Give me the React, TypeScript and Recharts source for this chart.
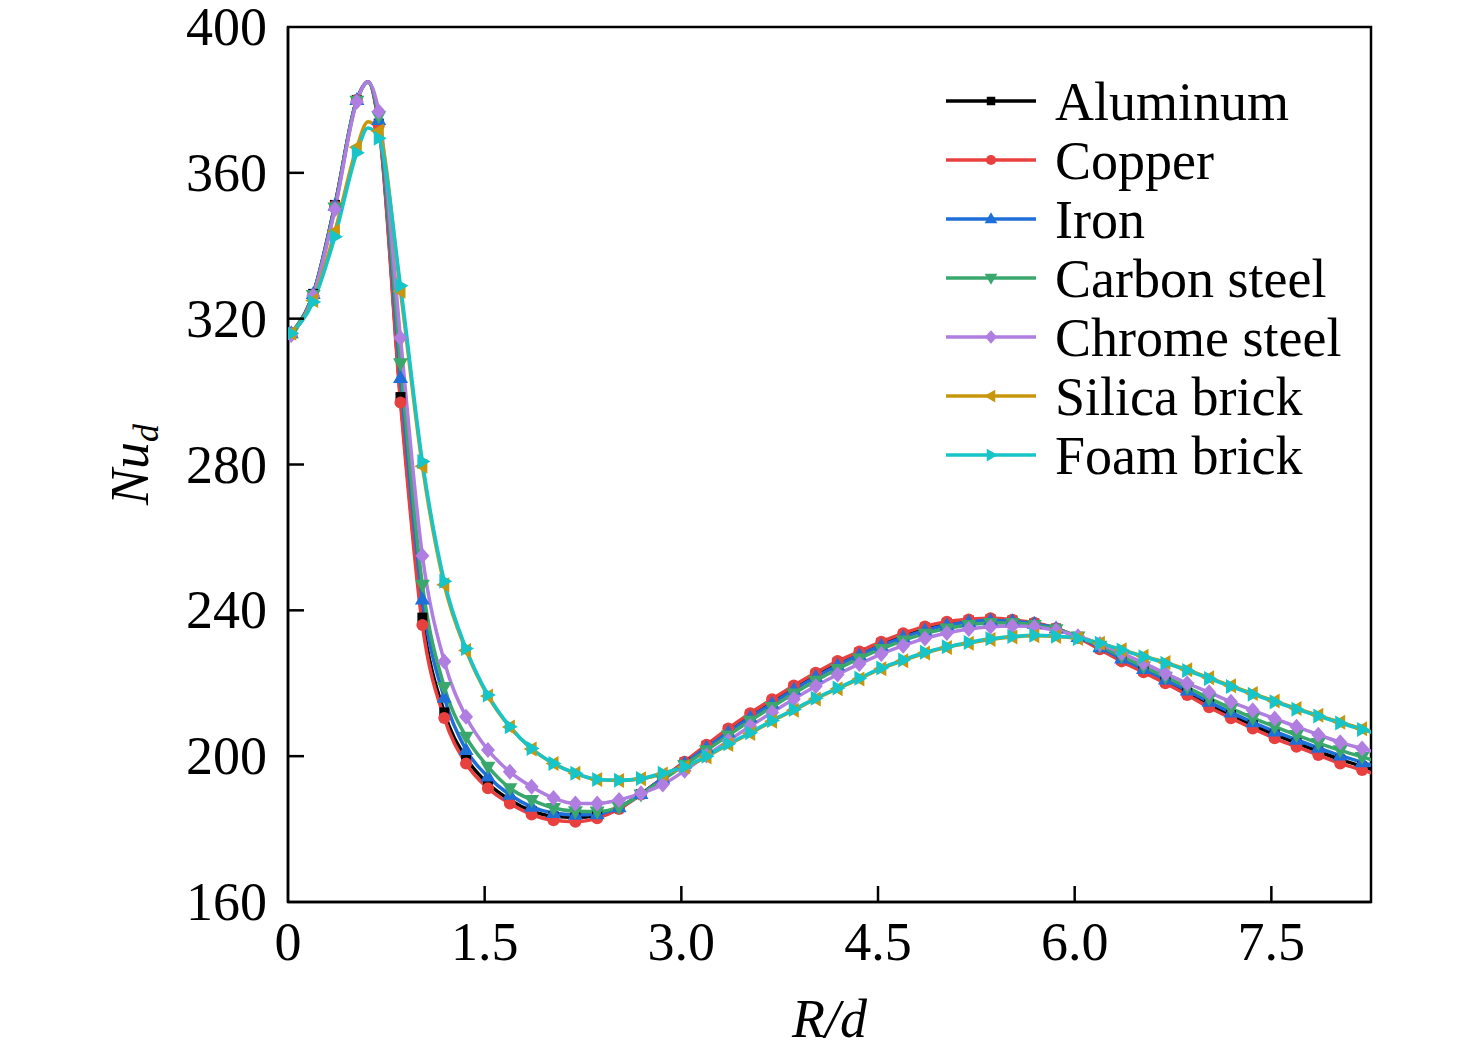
import React from 'react';
import { LineChart, Line, XAxis, YAxis, Legend, Label, ReferenceArea } from 'recharts';

const FONT = '"Liberation Serif", "Times New Roman", serif';

// R/d positions (0.61 is an extra unmarked point at the peak)
const R_D = [
  0.025, 0.192, 0.358, 0.525, 0.61, 0.692, 0.858, 1.025, 1.192, 1.358, 1.525, 1.692, 1.858,
  2.025, 2.192, 2.358, 2.525, 2.692, 2.858, 3.025, 3.192, 3.358, 3.525, 3.692, 3.858, 4.025,
  4.192, 4.358, 4.525, 4.692, 4.858, 5.025, 5.192, 5.358, 5.525, 5.692, 5.858, 6.025, 6.192,
  6.358, 6.525, 6.692, 6.858, 7.025, 7.192, 7.358, 7.525, 7.692, 7.858, 8.025, 8.192, 8.358,
];
const UNMARKED_X = [0.61];
const X_MAX = 8.26;
const X_TICKS = [0, 1.5, 3, 4.5, 6, 7.5];
const Y_TICKS = [160, 200, 240, 280, 320, 360, 400];

const ALUMINUM = [
  316, 326.8, 351.2, 380, 385, 373.5, 298.5, 238, 212, 199.5, 192.5, 188, 185, 183.5, 183.2,
  183.8, 186, 189.6, 194, 198.3, 202.8, 207.2, 211.4, 215.2, 219, 222.5, 225.7, 228.4, 231,
  233.3, 235.2, 236.5, 237.2, 237.5, 237.2, 236.4, 235, 232.6, 229.6, 226.4, 223.4, 220.5,
  217.4, 214.2, 211.3, 208.5, 205.9, 203.6, 201.3, 199.1, 197.2, 195.4,
];
const COPPER = [
  316, 326.5, 351, 380, 385, 373, 297, 236, 210.5, 198, 191.2, 187, 184, 182.4, 182, 183,
  185.5, 189.5, 194, 198.5, 203.1, 207.6, 211.8, 215.6, 219.4, 222.9, 226.1, 228.7, 231.4,
  233.7, 235.6, 236.9, 237.5, 237.8, 237.4, 236.6, 235.1, 232.5, 229.3, 226, 223, 220, 216.8,
  213.4, 210.4, 207.6, 204.9, 202.6, 200.3, 198, 196.2, 194.4,
];
const IRON = [
  316, 326.8, 351, 380, 385, 374.5, 303.7, 243, 216, 201.7, 194.4, 189.4, 186.1, 184.4, 183.9,
  184.1, 186, 189.6, 193.8, 198, 202.3, 206.5, 210.6, 214.4, 218.2, 221.7, 224.9, 227.7, 230.3,
  232.6, 234.5, 235.9, 236.8, 237.2, 237, 236.3, 235, 232.7, 229.9, 226.8, 223.9, 221, 218,
  214.9, 212, 209.3, 206.8, 204.5, 202.3, 200.2, 198.3, 196.5,
];
const CARBON_STEEL = [
  316, 326.5, 350.5, 379.8, 384.8, 375.5, 307.8, 247, 219, 205.3, 197.1, 191.2, 188, 185.8,
  184.9, 184.8, 186, 189.5, 193.5, 197.6, 201.6, 205.7, 209.7, 213.5, 217.2, 220.7, 223.9,
  226.8, 229.4, 231.7, 233.6, 235, 236, 236.5, 236.5, 236, 234.8, 232.8, 230.3, 227.4, 224.6,
  221.8, 218.9, 215.9, 213.1, 210.5, 208.1, 205.8, 203.6, 201.6, 199.8, 198,
];
const CHROME_STEEL = [
  315.5, 326.2, 350, 379.5, 385, 376.8, 314.7, 255, 226, 210.8, 201.7, 195.7, 191.6, 188.5,
  187, 187, 188, 189.8, 192.2, 196, 200.2, 204.2, 208.2, 212, 215.7, 219.2, 222.4, 225.3, 228,
  230.3, 232.3, 233.8, 234.9, 235.5, 235.7, 235.4, 234.5, 232.9, 230.8, 228.3, 225.6, 222.7,
  220, 217.5, 214.9, 212.6, 210.3, 208.1, 205.9, 203.8, 202.1, 200.4,
];
const SILICA_BRICK = [
  316, 325, 344, 367, 374, 371.5, 327.5, 279.5, 247, 229, 216.5, 208, 202, 198, 195.3, 193.6,
  193.3, 193.8, 195.1, 197, 199.8, 203.2, 206.2, 209.6, 212.6, 215.7, 218.5, 221.2, 224, 226.2,
  228.3, 229.8, 231, 232, 232.7, 233, 232.8, 232.3, 231, 229.2, 227.4, 225.7, 223.7, 221.5,
  219.3, 217.2, 215.1, 213.1, 211.2, 209.3, 207.5, 205.7,
];
const FOAM_BRICK = [
  316, 324.6, 342.5, 365.5, 372.3, 369.5, 329, 280.8, 248, 229.5, 216.8, 208.1, 202.1, 198,
  195.3, 193.6, 193.4, 193.9, 195.3, 197.1, 200, 203.4, 206.4, 209.8, 212.8, 215.9, 218.7,
  221.4, 224.2, 226.4, 228.5, 230, 231.2, 232.2, 232.8, 233.2, 232.9, 232.3, 231, 229.1, 227.3,
  225.5, 223.5, 221.3, 219.1, 217, 214.9, 212.9, 211, 209.1, 207.3, 205.5,
];

const SERIES = [
  { key: 'aluminum', name: 'Aluminum', color: '#000000', shape: 'square', values: ALUMINUM },
  { key: 'copper', name: 'Copper', color: '#e8403f', shape: 'circle', values: COPPER },
  { key: 'iron', name: 'Iron', color: '#1f6fd8', shape: 'up', values: IRON },
  { key: 'carbon', name: 'Carbon steel', color: '#3aa86c', shape: 'down', values: CARBON_STEEL },
  { key: 'chrome', name: 'Chrome steel', color: '#b07de0', shape: 'diamond', values: CHROME_STEEL },
  { key: 'silica', name: 'Silica brick', color: '#c8960c', shape: 'left', values: SILICA_BRICK },
  { key: 'foam', name: 'Foam brick', color: '#17c5c8', shape: 'right', values: FOAM_BRICK },
];

const data = R_D.map((x, i) => {
  const row: any = { x };
  SERIES.forEach((s) => {
    row[s.key] = s.values[i];
  });
  return row;
});

const Marker = ({ shape, cx, cy, color, s = 1 }: any) => {
  switch (shape) {
    case 'square':
      return <rect x={cx - 5 * s} y={cy - 5 * s} width={10 * s} height={10 * s} fill={color} />;
    case 'circle':
      return <circle cx={cx} cy={cy} r={6 * s} fill={color} />;
    case 'up':
      return <polygon points={`${cx},${cy - 8 * s} ${cx - 7.5 * s},${cy + 5 * s} ${cx + 7.5 * s},${cy + 5 * s}`} fill={color} />;
    case 'down':
      return <polygon points={`${cx},${cy + 8 * s} ${cx - 7.5 * s},${cy - 5 * s} ${cx + 7.5 * s},${cy - 5 * s}`} fill={color} />;
    case 'diamond':
      return <polygon points={`${cx},${cy - 8 * s} ${cx + 7 * s},${cy} ${cx},${cy + 8 * s} ${cx - 7 * s},${cy}`} fill={color} />;
    case 'left':
      return <polygon points={`${cx - 8 * s},${cy} ${cx + 5 * s},${cy - 7.5 * s} ${cx + 5 * s},${cy + 7.5 * s}`} fill={color} />;
    default:
      return <polygon points={`${cx + 8 * s},${cy} ${cx - 5 * s},${cy - 7.5 * s} ${cx - 5 * s},${cy + 7.5 * s}`} fill={color} />;
  }
};

const renderDot = (p: any, s: any) => {
  const key = `${s.key}-${p.index}`;
  const x = p.payload?.x;
  if (UNMARKED_X.includes(x) || x > X_MAX || p.cx == null || p.cy == null) return <g key={key} />;
  return (
    <g key={key}>
      <Marker shape={s.shape} cx={p.cx} cy={p.cy} color={s.color} />
    </g>
  );
};

const XTick = (props: any) => {
  const { x, y, payload } = props;
  const v = payload.value;
  return (
    <g>
      {v !== 0 && <line x1={x} y1={y} x2={x} y2={y - 16} stroke="#000" strokeWidth={2.5} />}
      <text x={x} y={y + 58} textAnchor="middle" fontSize={54} fontFamily={FONT} fill="#000">
        {v === 0 ? '0' : v.toFixed(1)}
      </text>
    </g>
  );
};

const YTick = (props: any) => {
  const { x, y, payload } = props;
  const v = payload.value;
  return (
    <g>
      {v !== 160 && v !== 400 && <line x1={x} y1={y} x2={x + 16} y2={y} stroke="#000" strokeWidth={2.5} />}
      <text x={x - 21} y={y + 18} textAnchor="end" fontSize={54} fontFamily={FONT} fill="#000">
        {v}
      </text>
    </g>
  );
};

const XLabel = (props: any) => {
  const vb = props.viewBox || {};
  return (
    <text x={vb.x + vb.width / 2} y={vb.y + 135} textAnchor="middle" fontSize={54} fontFamily={FONT} fontStyle="italic" fill="#000">
      R/d
    </text>
  );
};

const YLabel = (props: any) => {
  const vb = props.viewBox || {};
  const cx = vb.x + 140;
  const cy = vb.y + vb.height / 2;
  return (
    <text x={cx} y={cy} transform={`rotate(-90, ${cx}, ${cy})`} textAnchor="middle" fontSize={54} fontFamily={FONT} fontStyle="italic" fill="#000">
      Nu
      <tspan fontSize={36} dy={10}>d</tspan>
    </text>
  );
};

const renderLegend = () => (
  <svg width={440} height={420} style={{ display: 'block' }}>
    {SERIES.map((s, i) => {
      const cy = 33 + i * 59;
      return (
        <g key={s.key}>
          <line x1={8} y1={cy} x2={98} y2={cy} stroke={s.color} strokeWidth={3.5} />
          <Marker shape={s.shape} cx={53} cy={cy} color={s.color} s={0.85} />
          <text x={117} y={cy + 19} fontSize={54} fontFamily={FONT} fill="#000">
            {s.name}
          </text>
        </g>
      );
    })}
  </svg>
);

export default function App() {
  return (
    <div style={{ width: 1460, height: 1040, fontFamily: FONT, background: '#fff' }}>
      <LineChart width={1460} height={1040} data={data} margin={{ top: 19, right: 97, left: 0, bottom: 0 }}>
        <XAxis
          dataKey="x"
          type="number"
          domain={[0, X_MAX]}
          allowDataOverflow
          ticks={X_TICKS}
          interval={0}
          tickSize={0}
          tickMargin={0}
          tickLine={false}
          tick={<XTick />}
          height={146}
          axisLine={{ stroke: '#000', strokeWidth: 2.5 }}
        >
          <Label content={<XLabel />} />
        </XAxis>
        <YAxis
          type="number"
          domain={[160, 400]}
          allowDataOverflow
          ticks={Y_TICKS}
          interval={0}
          tickSize={0}
          tickMargin={0}
          tickLine={false}
          tick={<YTick />}
          width={280}
          axisLine={{ stroke: '#000', strokeWidth: 2.5 }}
        >
          <Label content={<YLabel />} />
        </YAxis>
        {/* plot frame */}
        <ReferenceArea x1={0} x2={X_MAX} y1={160} y2={400} fill="none" stroke="#000" strokeWidth={2.5} />
        <Legend
          layout="vertical"
          align="center"
          verticalAlign="middle"
          wrapperStyle={{ left: 930, top: 60, width: 440, height: 420 }}
          content={renderLegend}
        />
        {SERIES.map((s) => (
          <Line
            key={s.key}
            type="monotone"
            dataKey={s.key}
            name={s.name}
            stroke={s.color}
            strokeWidth={3.5}
            dot={(p: any) => renderDot(p, s)}
            activeDot={false}
            isAnimationActive={false}
          />
        ))}
      </LineChart>
    </div>
  );
}
